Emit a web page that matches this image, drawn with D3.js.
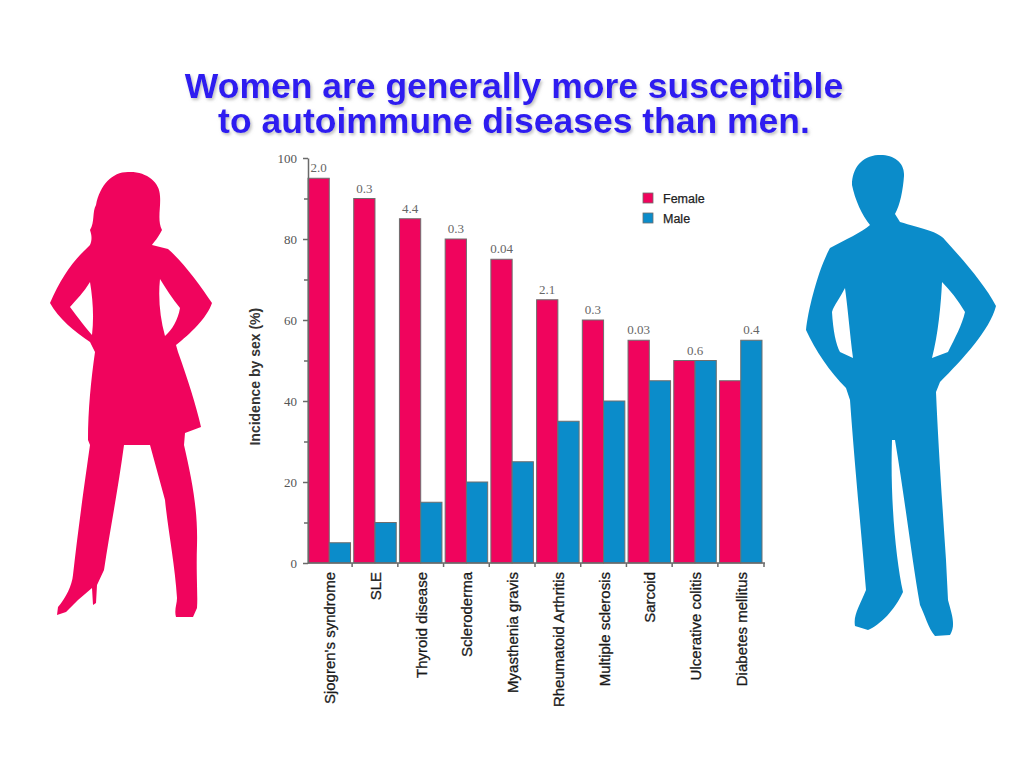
<!DOCTYPE html>
<html>
<head>
<meta charset="utf-8">
<script src="https://cdn.jsdelivr.net/npm/d3@7"></script>
<style>
body { margin: 0; background: #fff; }
svg { display: block; }
</style>
</head>
<body>
<div id="chart"></div>
<script>
// Chart values
var categories = ["Sjogren's syndrome", "SLE", "Thyroid disease", "Scleroderma", "Myasthenia gravis",
                  "Rheumatoid Arthritis", "Multiple sclerosis", "Sarcoid", "Ulcerative colitis", "Diabetes mellitus"];
var female = [95, 90, 85, 80, 75, 65, 60, 55, 50, 45];
var male = [5, 10, 15, 20, 25, 35, 40, 45, 50, 55];
var ratioLabels = ["2.0", "0.3", "4.4", "0.3", "0.04", "2.1", "0.3", "0.03", "0.6", "0.4"];
var series = ["Female", "Male"];
var yTicks = [0, 20, 40, 60, 80, 100];
var yMinorTicks = [10, 30, 50, 70, 90];
var titleLines = ["Women are generally more susceptible", "to autoimmune diseases than men."];

var PINK = "#f0045d";
var BLUE = "#0b8cca";
var colors = { "Female": PINK, "Male": BLUE };

var W = 1024, H = 774;
// plot box (note: "top" is reserved on window, so use pl*)
var plLeft = 308, plRight = 762, plTop = 158, plBottom = 563;

var svg = d3.select("#chart").append("svg")
    .attr("width", W)
    .attr("height", H);

// soft shadow for the title
var defs = svg.append("defs");
var f = defs.append("filter").attr("id", "shadow")
    .attr("x", "-5%").attr("y", "-20%").attr("width", "110%").attr("height", "150%");
f.append("feDropShadow")
    .attr("dx", 1.5).attr("dy", 2)
    .attr("stdDeviation", 1.5)
    .attr("flood-color", "#888")
    .attr("flood-opacity", 0.55);

// Title
svg.append("g").selectAll("text")
    .data(titleLines)
    .enter().append("text")
    .attr("x", 514)
    .attr("y", function(d, i) { return 98 + i*35; })
    .attr("text-anchor", "middle")
    .attr("filter", "url(#shadow)")
    .style("font-family", "'Liberation Sans', Arial, sans-serif")
    .style("font-weight", "bold")
    .style("font-size", "35.5px")
    .style("fill", "#2d1af0")
    .text(function(d) { return d; });

// Silhouettes (decoration)
var woman = "M128,172 C146,171 160,182 160,196 C161,208 157,220 162,230 C158,238 154,242 152,245 L168,249 " +
    "C183,262 200,285 212,303 C207,318 190,334 176,345 L178,352 C188,380 196,405 201,427 L185,433 L184,445 " +
    "C192,480 198,510 197,545 C196,575 198,595 197,608 L193,617 L176,617 C174,610 177,604 177,598 " +
    "C175,565 168,530 165,500 L150,445 L124,445 C118,490 110,530 104,570 L97,585 L96,603 L93,605 L92,588 " +
    "L78,600 L66,612 L57,615 L58,607 C66,598 72,585 73,575 C78,530 85,480 90,445 L88,440 " +
    "C88,410 91,380 95,352 L90,342 C75,332 58,318 50,303 C60,280 72,262 85,250 L90,245 " +
    "C92,240 92,236 90,230 C95,222 92,212 96,205 C100,185 112,172 128,172 Z " +
    "M90,282 C84,292 76,300 70,307 C78,318 86,328 92,335 C94,318 93,300 90,282 Z " +
    "M160,279 C158,298 160,318 165,336 C172,330 178,320 180,308 C172,298 166,289 160,279 Z";
var man = "M878,155 C893,154 905,162 904,176 C903,190 900,205 895,214 L900,222 C920,228 940,232 945,240 " +
    "C965,262 985,285 996,306 C990,330 962,360 940,382 L936,392 C938,440 942,500 946,560 L948,600 " +
    "C952,615 956,625 950,635 L935,636 C928,628 925,615 920,605 C912,560 905,500 895,440 L892,440 " +
    "C890,500 896,560 903,592 C895,610 880,625 868,630 L855,626 C853,615 860,605 866,590 " +
    "C862,540 855,470 850,400 L846,388 C830,372 815,350 806,330 C808,310 818,270 830,248 " +
    "C845,240 862,232 870,225 C862,215 855,200 852,185 C852,168 862,156 878,155 Z " +
    "M845,288 C840,298 834,305 832,312 C833,330 836,345 840,352 L853,358 C850,335 848,310 845,288 Z " +
    "M942,282 C941,305 938,335 932,358 L948,352 C955,338 962,325 965,312 C958,300 950,290 942,282 Z";
svg.append("path").attr("d", woman).attr("fill", PINK).attr("fill-rule", "evenodd");
svg.append("path").attr("d", man).attr("fill", BLUE).attr("fill-rule", "evenodd");

// Scales
var x0 = d3.scaleBand()
    .domain(categories)
    .range([plLeft, plRight])
    .paddingInner(0.07)
    .paddingOuter(0);
var x1 = d3.scaleBand()
    .domain(series)
    .range([0, x0.bandwidth()]);
var y = d3.scaleLinear()
    .domain([0, 100])
    .range([plBottom, plTop]);

var rows = categories.map(function(c, i) {
    return { cat: c, Female: female[i], Male: male[i], label: ratioLabels[i] };
});

// Bars
var groups = svg.append("g").selectAll("g")
    .data(rows)
    .enter().append("g")
    .attr("transform", function(d) { return "translate(" + x0(d.cat) + ",0)"; });
groups.selectAll("rect")
    .data(function(d) { return series.map(function(s) { return { key: s, value: d[s] }; }); })
    .enter().append("rect")
    .attr("x", function(d) { return x1(d.key); })
    .attr("y", function(d) { return y(d.value); })
    .attr("width", x1.bandwidth())
    .attr("height", function(d) { return y(0) - y(d.value); })
    .style("fill", function(d) { return colors[d.key]; })
    .style("stroke", "#6e6e6e")
    .style("stroke-width", 1);

// Ratio labels above the taller bar
groups.append("text")
    .attr("x", function(d) {
        if (d.Female > d.Male) return x1("Female") + x1.bandwidth()/2;
        if (d.Male > d.Female) return x1("Male") + x1.bandwidth()/2;
        return x0.bandwidth()/2;
    })
    .attr("y", function(d) { return y(Math.max(d.Female, d.Male)) - 6; })
    .attr("text-anchor", "middle")
    .style("font-family", "'Liberation Serif', 'Times New Roman', serif")
    .style("font-size", "13px")
    .style("fill", "#666")
    .text(function(d) { return d.label; });

// Y axis
var yAxis = svg.append("g")
    .attr("transform", "translate(" + plLeft + ",0)")
    .call(d3.axisLeft(y).tickValues(yTicks).tickSize(5).tickSizeOuter(0).tickPadding(6)
          .tickFormat(d3.format("d")));
svg.append("g")
    .attr("transform", "translate(" + plLeft + ",0)")
    .call(d3.axisLeft(y).tickValues(yMinorTicks).tickSize(4).tickSizeOuter(0).tickFormat(""))
    .select(".domain").remove();
svg.selectAll(".tick line, .domain")
    .attr("stroke", "#6a6a6a")
    .attr("stroke-width", 1.5);
yAxis.selectAll("text")
    .style("font-family", "'Liberation Serif', 'Times New Roman', serif")
    .style("font-size", "13px")
    .style("fill", "#555");

svg.append("text")
    .attr("transform", "translate(260," + y(46) + ") rotate(-90)")
    .attr("text-anchor", "middle")
    .style("font-family", "'Liberation Sans', Arial, sans-serif")
    .style("font-weight", "bold")
    .style("font-size", "14px")
    .style("fill", "#333")
    .text("Incidence by sex (%)");

// X axis: baseline with ticks between groups
var xg = svg.append("g");
xg.append("line")
    .attr("x1", plLeft).attr("x2", plRight + 3)
    .attr("y1", y(0)).attr("y2", y(0))
    .attr("stroke", "#6a6a6a").attr("stroke-width", 1.5);
var gap = x0.step() * x0.paddingInner();
xg.selectAll(".xt")
    .data(categories)
    .enter().append("line")
    .attr("class", "xt")
    .attr("x1", function(d, i) { return i == categories.length-1 ? plRight + 2 : x0(d) + x0.bandwidth() + gap/2; })
    .attr("x2", function(d, i) { return i == categories.length-1 ? plRight + 2 : x0(d) + x0.bandwidth() + gap/2; })
    .attr("y1", y(0)).attr("y2", y(0) + 4)
    .attr("stroke", "#6a6a6a").attr("stroke-width", 1.5);
xg.selectAll(".xl")
    .data(categories)
    .enter().append("text")
    .attr("class", "xl")
    .attr("transform", function(d) {
        return "translate(" + (x0(d) + x0.bandwidth()/2 + 6) + "," + (y(0) + 9) + ") rotate(-90)";
    })
    .attr("text-anchor", "end")
    .style("font-family", "'Liberation Sans', Arial, sans-serif")
    .style("font-size", "15px")
    .style("fill", "#1a1a1a")
    .style("stroke", "#1a1a1a")
    .style("stroke-width", 0.3)
    .text(function(d) { return d; });

// Legend
var legend = svg.append("g").selectAll("g")
    .data(series)
    .enter().append("g")
    .attr("transform", function(d, i) { return "translate(643," + (193 + i*20) + ")"; });
legend.append("rect")
    .attr("width", 10).attr("height", 10)
    .style("fill", function(d) { return colors[d]; })
    .style("stroke", "#6e6e6e")
    .style("stroke-width", 0.8);
legend.append("text")
    .attr("x", 20).attr("y", 9.5)
    .style("font-family", "'Liberation Sans', Arial, sans-serif")
    .style("font-size", "12.5px")
    .style("fill", "#222")
    .style("stroke", "#222")
    .style("stroke-width", 0.25)
    .text(function(d) { return d; });
</script>
</body>
</html>
